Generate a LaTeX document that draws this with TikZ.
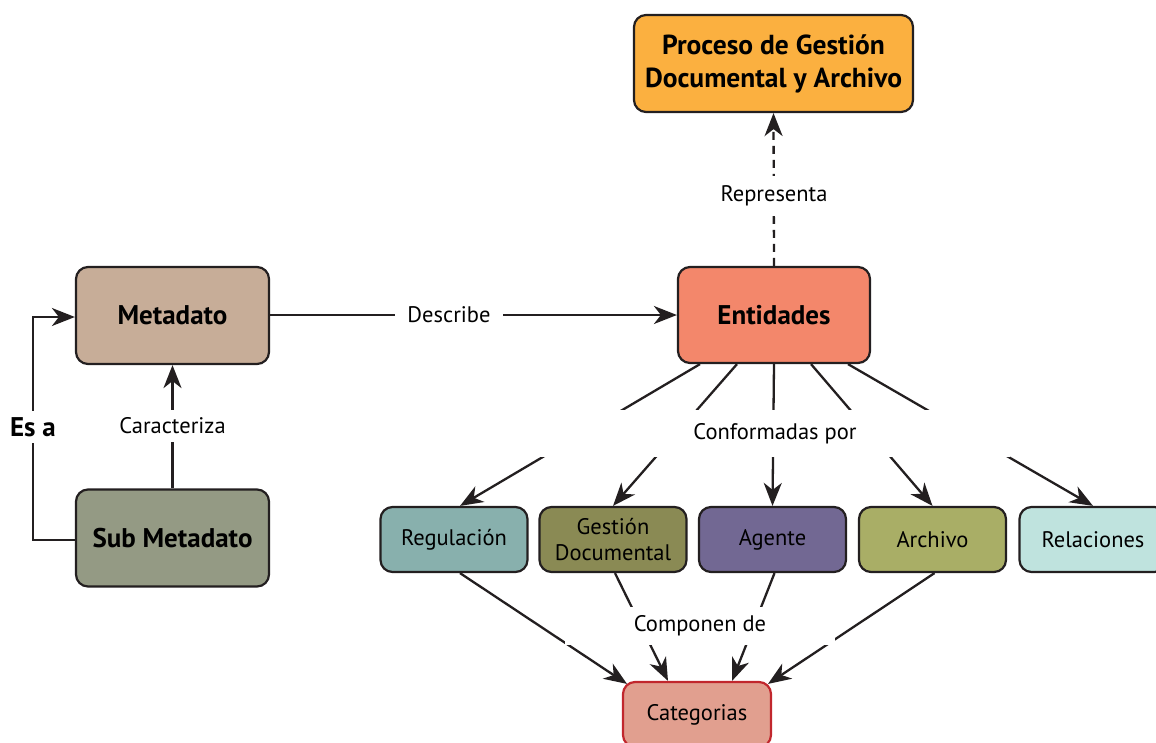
\documentclass[tikz,border=0pt]{standalone}
\usepackage{fontspec}
\setmainfont{PT Sans}
\usetikzlibrary{arrows.meta}

\definecolor{ink}{HTML}{231F20}
\definecolor{cProceso}{HTML}{FBB040}
\definecolor{cMeta}{HTML}{C7AD98}
\definecolor{cSub}{HTML}{949A84}
\definecolor{cEnt}{HTML}{F3876B}
\definecolor{cReg}{HTML}{88B0AD}
\definecolor{cGes}{HTML}{8A8A54}
\definecolor{cAge}{HTML}{726893}
\definecolor{cArc}{HTML}{A9AE66}
\definecolor{cRel}{HTML}{BFE3DE}
\definecolor{cCat}{HTML}{E19F8F}
\definecolor{cCatLine}{HTML}{C1272D}

\begin{document}
\begin{tikzpicture}[x=1pt,y=-1pt,
  box/.style={draw=ink, line width=2.2pt, rounded corners=12pt, inner sep=0pt,
    align=center, text=black},
  bigbox/.style={box, minimum width=193pt, minimum height=97pt,
    font=\bfseries\fontsize{27}{32}\selectfont},
  smallbox/.style={box, minimum width=147pt, minimum height=65pt,
    font=\fontsize{22.5}{26}\selectfont},
  conn/.style={draw=ink, line width=2.3pt},
  arr/.style={conn, -{Stealth[length=23pt, width=18pt, inset=7pt]}},
  lbl/.style={fill=white, inner sep=0pt, font=\fontsize{22.5}{26}\selectfont},
  band/.style={fill=white, inner sep=0pt, font=\fontsize{22.5}{26}\selectfont}
]
\useasboundingbox (0,0) rectangle (1156,742);

% main boxes
\node[box, fill=cProceso, minimum width=279pt, minimum height=97pt,
  font=\bfseries\fontsize{27.5}{33}\selectfont] (proc) at (773.5,63.5)
  {Proceso de Gestión\\Documental y Archivo};
\node[bigbox, fill=cMeta] (meta) at (172.5,315.5) {Metadato};
\node[bigbox, fill=cSub] (sub) at (172.5,538) {Sub Metadato};
\node[bigbox, fill=cEnt, minimum width=192pt, minimum height=96pt] (ent) at (774,315) {Entidades};

% components
\node[smallbox, fill=cReg] (reg) at (454,539.5) {Regulación};
\node[smallbox, fill=cGes, font=\fontsize{22.5}{26}\selectfont] (ges) at (613,539.5) {Gestión\\Documental};
\node[smallbox, fill=cAge] (age) at (772.5,539.5) {Agente};
\node[smallbox, fill=cArc] (arc) at (932.5,539.5) {Archivo};
\node[smallbox, fill=cRel] (rel) at (1093,539.5) {Relaciones};
\node[smallbox, fill=cCat, draw=cCatLine, minimum width=148pt] (cat) at (697,714.5) {Categorias};

% Sub Metadato -> Metadato
\coordinate (esTop) at (33,317);
\coordinate (esBot) at (33,540);
\draw[arr] (sub.west |- esBot) -- (esBot) -- (esTop) -- (meta.west |- esTop);
\node[fill=white, inner ysep=6pt, inner xsep=2pt, font=\bfseries\fontsize{27}{32}\selectfont] (esa) at (33,427) {Es a};

\draw[arr] (sub.north) -- (meta.south);
\node[lbl, inner ysep=8pt, inner xsep=4pt] (carac) at (172.5,426) {Caracteriza};

% Metadato -> Entidades
\draw[arr] (meta.east |- ent.west) -- (ent.west);
\node[lbl, minimum width=108pt, minimum height=20pt] (desc) at (449,315) {Describe};

% Entidades -> Proceso
\draw[arr, dash pattern=on 8pt off 6pt] (ent.north) -- (proc.south);
\node[lbl, minimum width=110pt, minimum height=40pt] (repr) at (774,196) {Representa};

% Entidades -> components
\draw[arr] ([xshift=-74pt]ent.south) -- ([xshift=6pt]reg.north);
\draw[arr] ([xshift=-37pt]ent.south) -- (ges.north);
\draw[arr] (ent.south) -- (age.north);
\draw[arr] ([xshift=37pt]ent.south) -- (arc.north);
\draw[arr] ([xshift=74pt]ent.south) -- (rel.north);
\node[band, minimum width=470pt, minimum height=47pt] (conf) at (775,433.5) {Conformadas por};

% components -> Categorias
\draw[arr] ([xshift=6pt]reg.south) -- ([xshift=-70pt,yshift=-3pt]cat.north);
\draw[arr] ([xshift=2pt]ges.south) -- ([xshift=-29pt]cat.north);
\draw[arr] ([xshift=2pt]age.south) -- ([xshift=35pt]cat.north);
\draw[arr] ([xshift=2pt]arc.south) -- ([xshift=71pt,yshift=-3pt]cat.north);
\node[band, minimum width=270pt, minimum height=38pt] (comp) at (700,626) {Componen de};
\end{tikzpicture}
\end{document}
